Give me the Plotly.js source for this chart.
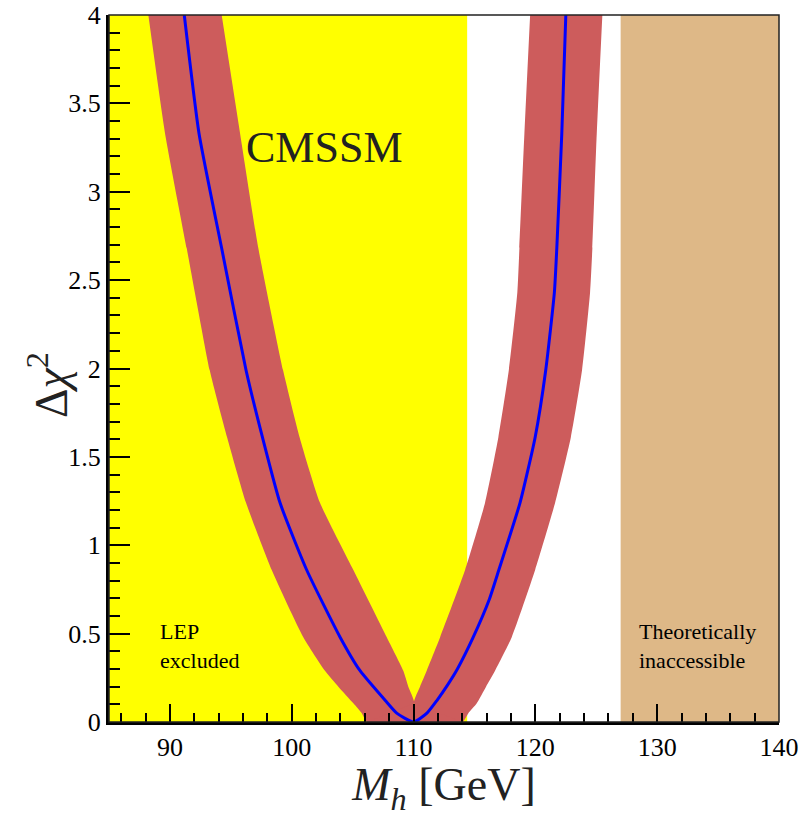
<!DOCTYPE html>
<html>
<head>
<meta charset="utf-8">
<script src="https://cdn.plot.ly/plotly-3.0.1.min.js"></script>
<style>html,body{margin:0;padding:0;background:#fff;}#chart{width:806px;height:817px;}</style>
</head>
<body>
<div id="chart"></div>
<script>
// Excluded / inaccessible regions (GeV)
const lepRegion = [85, 114.4];
const theoryRegion = [127, 140];
const yLimits = [0, 4];

// Red theory band, left branch
const leftY      = [4, 3.33, 2.68, 1.99, 1.61, 1.24, 0.86, 0.48, 0.29, 0.2, 0.106, 0.05, 0];
const leftOuterX = [88.23, 89.60, 91.38, 93.27, 94.70, 96.25, 98.36, 100.95, 102.73, 103.83, 105.06, 105.75, 106.2];
const leftInnerX = [94.25, 95.76, 97.26, 99.29, 100.65, 102.32, 105.06, 107.80, 109.16, 109.57, 110.04];

// Red theory band, right branch
const rightY      = [4, 3.33, 2.68, 2.43, 1.99, 1.61, 1.24, 0.86, 0.48, 0.29, 0.2, 0.106, 0.05, 0];
const rightOuterX = [125.50, 125.04, 124.68, 124.49, 123.83, 122.91, 121.62, 119.98, 118.06, 116.69, 115.95, 115.19, 114.5, 114.0];
const rightInnerX = [119.57, 119.10, 118.69, 118.52, 117.82, 116.96, 115.87, 114.23, 112.18, 111.08, 110.53, 110.04];

// Blue best-fit curve
const curveX = [91.18, 92.39, 94.25, 96.25, 97.6, 99.04, 101.23, 103.97, 105.61, 107.7, 108.62, 110.0,
                111.1, 111.9, 112.8, 113.6, 114.9, 116.2, 117.0, 118.74, 119.98, 120.85, 121.56, 121.76, 122.17, 122.5];
const curveY = [4, 3.33, 2.68, 1.99, 1.61, 1.24, 0.86, 0.48, 0.29, 0.12, 0.05, 0,
                0.05, 0.12, 0.21, 0.3, 0.48, 0.69, 0.86, 1.24, 1.61, 1.99, 2.43, 2.68, 3.33, 4];

// Band as two branch polygons (union gives the V-shaped notch at the minimum)
const leftPolyX = [], leftPolyY = [];
for (let i = 0; i < leftY.length; i++) { leftPolyX.push(leftOuterX[i]); leftPolyY.push(leftY[i]); }
for (let i = leftInnerX.length - 1; i >= 0; i--) { leftPolyX.push(leftInnerX[i]); leftPolyY.push(leftY[i]); }
const rightPolyX = [], rightPolyY = [];
for (let i = 0; i < rightY.length; i++) { rightPolyX.push(rightOuterX[i]); rightPolyY.push(rightY[i]); }
for (let i = rightInnerX.length - 1; i >= 0; i--) { rightPolyX.push(rightInnerX[i]); rightPolyY.push(rightY[i]); }
// fill the merged bottom part between the branches
const bottomX = [leftOuterX[leftOuterX.length - 1], rightOuterX[rightOuterX.length - 1], rightInnerX[rightInnerX.length - 1]];
const bottomY = [leftY[leftY.length - 1], rightY[rightY.length - 1], rightY[rightInnerX.length - 1]];

const bandStyle = {type: 'scatter', mode: 'lines', fill: 'toself', fillcolor: '#CD5C5C',
                   line: {width: 0, shape: 'spline', smoothing: 0.5}, hoverinfo: 'skip'};

const traces = [
  {x: [lepRegion[0], lepRegion[1], lepRegion[1], lepRegion[0]], y: [yLimits[0], yLimits[0], yLimits[1], yLimits[1]],
   type: 'scatter', mode: 'lines', fill: 'toself', fillcolor: '#FFFF00', line: {width: 0}, hoverinfo: 'skip'},
  {x: [theoryRegion[0], theoryRegion[1], theoryRegion[1], theoryRegion[0]], y: [yLimits[0], yLimits[0], yLimits[1], yLimits[1]],
   type: 'scatter', mode: 'lines', fill: 'toself', fillcolor: '#DEB887', line: {width: 0}, hoverinfo: 'skip'},
  Object.assign({x: leftPolyX, y: leftPolyY}, bandStyle),
  Object.assign({x: rightPolyX, y: rightPolyY}, bandStyle),
  {x: bottomX, y: bottomY, type: 'scatter', mode: 'lines', fill: 'toself', fillcolor: '#CD5C5C', line: {width: 0}, hoverinfo: 'skip'},
  {x: curveX, y: curveY, type: 'scatter', mode: 'lines', line: {color: '#0000FF', width: 3, shape: 'spline', smoothing: 0.5}}
];

const serif = 'Liberation Serif, Times New Roman, serif';
const layout = {
  width: 806, height: 817,
  margin: {l: 109, r: 27, t: 15, b: 95},
  paper_bgcolor: '#ffffff', plot_bgcolor: '#ffffff',
  showlegend: false,
  font: {family: serif, color: '#000', size: 26},
  xaxis: {
    range: [85, 140], dtick: 10, tick0: 80,
    ticks: 'inside', ticklen: 18, tickwidth: 2, tickcolor: '#000',
    minor: {dtick: 2, ticks: 'inside', ticklen: 9, tickwidth: 2, tickcolor: '#000'},
    showline: true, linewidth: 3, linecolor: '#000', mirror: false,
    showgrid: false, zeroline: false,
    tickfont: {family: serif, size: 26, color: '#000'},
    title: {text: '<i>M</i><sub><i>h</i></sub> [GeV]', font: {family: serif, size: 46, color: '#222'}, standoff: 12}
  },
  yaxis: {
    range: [0, 4], dtick: 0.5,
    ticks: 'inside', ticklen: 21, tickwidth: 2, tickcolor: '#000',
    minor: {dtick: 0.1, ticks: 'inside', ticklen: 11, tickwidth: 2, tickcolor: '#000'},
    showline: true, linewidth: 3, linecolor: '#000', mirror: false,
    showgrid: false, zeroline: false,
    tickfont: {family: serif, size: 26, color: '#000'}
  },
  shapes: [
    {type: 'rect', xref: 'paper', yref: 'paper', x0: 0, x1: 1, y0: 0, y1: 1, line: {color: '#222', width: 1.5}, layer: 'above'}
  ],
  annotations: [
    {x: -0.092, y: 0.477, xref: 'paper', yref: 'paper', text: 'Δ<i>χ</i><sup>2</sup>', showarrow: false,
     textangle: -90, xanchor: 'center', yanchor: 'middle', font: {family: serif, size: 46, color: '#222'}},
    {x: 102.7, y: 3.25, xref: 'x', yref: 'y', text: 'CMSSM', showarrow: false,
     font: {family: serif, size: 44, color: '#222'}},
    {x: 89.0, y: 0.43, xref: 'x', yref: 'y', text: 'LEP<br>excluded', showarrow: false, align: 'left',
     xanchor: 'left', yanchor: 'middle', font: {family: serif, size: 22, color: '#000'}},
    {x: 128.35, y: 0.43, xref: 'x', yref: 'y', text: 'Theoretically<br>inaccessible', showarrow: false, align: 'left',
     xanchor: 'left', yanchor: 'middle', font: {family: serif, size: 22, color: '#000'}}
  ]
};

Plotly.newPlot('chart', traces, layout, {displayModeBar: false, staticPlot: true});
</script>
</body>
</html>
